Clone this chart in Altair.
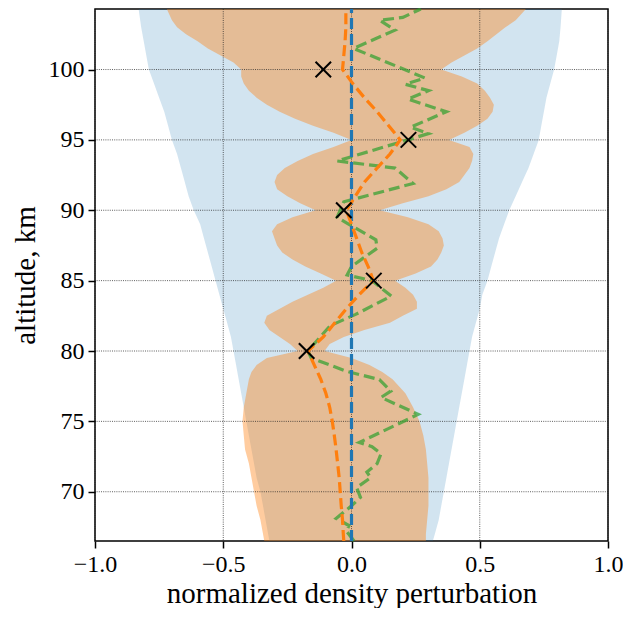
import altair as alt
import pandas as pd

# ---- light-blue envelope (altitude km, lower, upper) ----
env_alt = [66.5, 67, 68, 69, 70, 71, 72, 73, 74, 75, 76, 77, 78, 79, 80, 81, 82, 83, 84, 85,
           86, 87, 88, 89, 90, 91, 92, 93, 94, 95, 96, 97, 98, 99, 100, 101, 102, 103, 104.3]
env_lo = [-0.32, -0.325, -0.335, -0.345, -0.355, -0.37, -0.38, -0.39, -0.40, -0.41, -0.42, -0.43, -0.44,
          -0.45, -0.46, -0.47, -0.485, -0.50, -0.515, -0.53, -0.545, -0.56, -0.575, -0.59, -0.615,
          -0.635, -0.65, -0.665, -0.68, -0.70, -0.715, -0.73, -0.75, -0.77, -0.79, -0.80, -0.81, -0.82, -0.83]
env_hi = [0.317, 0.325, 0.34, 0.35, 0.36, 0.37, 0.38, 0.39, 0.40, 0.41, 0.42, 0.43, 0.44,
          0.45, 0.46, 0.47, 0.485, 0.50, 0.51, 0.53, 0.545, 0.56, 0.575, 0.595, 0.615,
          0.64, 0.665, 0.69, 0.71, 0.73, 0.74, 0.75, 0.76, 0.775, 0.79, 0.80, 0.81, 0.815, 0.82]

# ---- orange band ----
band_alt = [66.5, 67, 68, 69, 70, 71, 72, 73, 74, 75, 76, 77, 78, 78.5, 79, 79.5, 80,
            80.5, 81, 81.5, 82, 82.5, 83, 83.5, 84, 84.5, 85,
            85.5, 86, 86.5, 87, 87.5, 88, 88.5, 89, 89.5, 90,
            90.5, 91, 91.5, 92, 92.5, 93, 93.5, 94, 94.5, 95,
            95.5, 96, 96.5, 97, 97.5, 98, 98.5, 99, 99.5, 100,
            100.5, 101, 101.5, 102, 102.5, 103, 103.5, 104.3]
band_lo = [-0.34, -0.345, -0.355, -0.37, -0.38, -0.39, -0.40, -0.415, -0.42, -0.425, -0.42, -0.41, -0.40, -0.39, -0.37, -0.33, -0.21,
           -0.24, -0.28, -0.32, -0.34, -0.33, -0.28, -0.23, -0.17, -0.11, -0.06,
           -0.12, -0.18, -0.23, -0.27, -0.29, -0.30, -0.31, -0.29, -0.23, -0.14,
           -0.20, -0.25, -0.29, -0.30, -0.29, -0.26, -0.21, -0.15, -0.07, 0.0,
           -0.07, -0.15, -0.22, -0.28, -0.33, -0.37, -0.40, -0.42, -0.43, -0.43,
           -0.46, -0.51, -0.56, -0.60, -0.645, -0.68, -0.70, -0.72]
band_hi = [0.29, 0.29, 0.295, 0.30, 0.30, 0.30, 0.295, 0.29, 0.28, 0.265, 0.24, 0.21, 0.16, 0.12, 0.07, 0.0, -0.105,
           -0.085, -0.03, 0.05, 0.15, 0.20, 0.255, 0.255, 0.24, 0.21, 0.17,
           0.25, 0.31, 0.335, 0.35, 0.36, 0.355, 0.34, 0.30, 0.22, 0.11,
           0.20, 0.30, 0.37, 0.42, 0.44, 0.46, 0.47, 0.475, 0.46, 0.38,
           0.44, 0.49, 0.53, 0.55, 0.555, 0.54, 0.52, 0.49, 0.43, 0.35,
           0.39, 0.44, 0.49, 0.53, 0.565, 0.60, 0.64, 0.68]

# ---- orange dashed mean profile ----
mean_alt = [66.5, 67, 68, 69, 70, 71, 72, 73, 74, 75, 76, 77, 78, 79, 80, 81, 82, 83, 84, 85,
            86, 87, 88, 89, 90, 91, 92, 93, 94, 95, 96, 97, 98, 99, 100, 101, 102, 103, 104.3]
mean_x = [-0.03, -0.032, -0.035, -0.04, -0.044, -0.048, -0.054, -0.06, -0.067, -0.075, -0.085, -0.10, -0.12,
          -0.145, -0.17, -0.11, -0.065, -0.02, 0.03, 0.085, 0.065, 0.04, 0.02, 0.0, -0.02, 0.015, 0.05,
          0.10, 0.15, 0.19, 0.145, 0.10, 0.05, 0.005, -0.035, -0.03, -0.025, -0.022, -0.022]

# ---- green dashed profile ----
green_alt = [66.5, 67.2, 67.6, 68.1, 69.0, 69.6, 70.3, 71.0, 71.4, 72.0, 72.7, 73.2, 73.5, 75.5, 76.7, 77.15,
             77.97, 78.55, 79.5, 80.0, 81.8, 82.6, 83.9, 85.0, 85.4, 86.0, 87.3, 87.9, 89.0, 89.5, 90.6,
             91.9, 93.0, 93.5, 95.0, 95.45, 95.9, 97.0, 97.9, 98.5, 98.95, 99.4, 101.5, 102.8, 103.5, 103.7, 104.3]
green_x = [0.01, -0.02, -0.01, -0.06, 0.0, 0.035, 0.02, 0.075, 0.06, 0.10, 0.115, 0.08, 0.03, 0.26, 0.115, 0.153,
           0.109, -0.018, -0.157, -0.17, -0.083, 0.016, 0.155, 0.08, -0.017, 0.0, 0.10, 0.095, -0.01, -0.056, -0.03,
           0.24, 0.17, -0.056, 0.22, 0.30, 0.23, 0.37, 0.22, 0.30, 0.21, 0.286, 0.008, 0.17, 0.11, 0.20, 0.27]

# ---- reference (true) profile ----
truth_alt = [66.5, 104.3]
truth_x = [0.0, 0.0]

# ---- observations ----
obs_alt = [100, 95, 90, 85, 80]
obs_x = [-0.11, 0.222, -0.03, 0.087, -0.175]

x_ticks = [-1.0, -0.5, 0.0, 0.5, 1.0]
y_ticks = [70, 75, 80, 85, 90, 95, 100]

FONT = "Liberation Serif"

env_df = pd.DataFrame({"alt": env_alt, "lo": env_lo, "hi": env_hi})
band_df = pd.DataFrame({"alt": band_alt, "lo": band_lo, "hi": band_hi})
mean_df = pd.DataFrame({"alt": mean_alt, "x": mean_x, "i": range(len(mean_alt))})
green_df = pd.DataFrame({"alt": green_alt, "x": green_x, "i": range(len(green_alt))})
truth_df = pd.DataFrame({"alt": truth_alt, "x": truth_x, "i": range(len(truth_alt))})
obs_df = pd.DataFrame({"alt": obs_alt, "x": obs_x})
xt_df = pd.DataFrame({"v": x_ticks})
yt_df = pd.DataFrame({"v": y_ticks})

xs = alt.Scale(domain=[-1.0, 1.0], nice=False, zero=False)
ys = alt.Scale(domain=[66.5, 104.3], nice=False, zero=False)

common_axis = dict(grid=False, domain=False, ticks=True, tickSize=7, tickWidth=1.5,
                   tickColor="black", labelFont=FONT, labelFontSize=24, labelColor="black",
                   titleFont=FONT, titleFontSize=29, titleFontWeight="normal", titleColor="black",
                   labelFlush=False, labelOverlap=False)

xaxis = alt.Axis(values=x_ticks, format=".1f", title="normalized density perturbation",
                 labelPadding=4, titlePadding=3, **common_axis)
yaxis = alt.Axis(values=y_ticks, format="d", title="altitude, km",
                 labelPadding=4, titlePadding=8, **common_axis)

env = alt.Chart(env_df).mark_area(orient="horizontal", color="#1f77b4", opacity=0.2).encode(
    y=alt.Y("alt:Q", scale=ys, axis=yaxis),
    x=alt.X("lo:Q", scale=xs, axis=xaxis),
    x2="hi:Q",
)
band = alt.Chart(band_df).mark_area(orient="horizontal", color="#ff7f0e", opacity=0.4).encode(
    y=alt.Y("alt:Q", scale=ys), x=alt.X("lo:Q", scale=xs), x2="hi:Q"
)
gx = alt.Chart(xt_df).mark_rule(color="#222222", strokeDash=[1, 1.2], strokeWidth=0.8, opacity=0.9).encode(
    x=alt.X("v:Q", scale=xs)
)
gy = alt.Chart(yt_df).mark_rule(color="#222222", strokeDash=[1, 1.2], strokeWidth=0.8, opacity=0.9).encode(
    y=alt.Y("v:Q", scale=ys)
)
green = alt.Chart(green_df).mark_line(color="#2ca02c", opacity=0.7, strokeWidth=3.2, strokeDash=[11, 5]).encode(
    x=alt.X("x:Q", scale=xs), y=alt.Y("alt:Q", scale=ys), order="i:Q"
)
truth = alt.Chart(truth_df).mark_line(color="#1f77b4", strokeWidth=3.2, strokeDash=[11, 5]).encode(
    x=alt.X("x:Q", scale=xs), y=alt.Y("alt:Q", scale=ys), order="i:Q"
)
mean = alt.Chart(mean_df).mark_line(color="#ff7f0e", strokeWidth=3.2, strokeDash=[11, 5]).encode(
    x=alt.X("x:Q", scale=xs), y=alt.Y("alt:Q", scale=ys), order="i:Q"
)
obs = alt.Chart(obs_df).mark_point(shape="M-1,-1L1,1M-1,1L1,-1", size=240, stroke="black",
                                   strokeWidth=2, filled=False, opacity=1).encode(
    x=alt.X("x:Q", scale=xs), y=alt.Y("alt:Q", scale=ys)
)

chart = alt.layer(env, band, gx, gy, green, truth, mean, obs).properties(
    width=513, height=532,
    autosize=alt.AutoSizeParams(type="none"),
    padding={"left": 87, "top": 1, "right": 15, "bottom": 67},
).configure_view(stroke="black", strokeWidth=1.5).configure_axis(
    labelFont=FONT, titleFont=FONT
)

chart.save("out.html", embed_options={"renderer": "svg", "actions": False})
